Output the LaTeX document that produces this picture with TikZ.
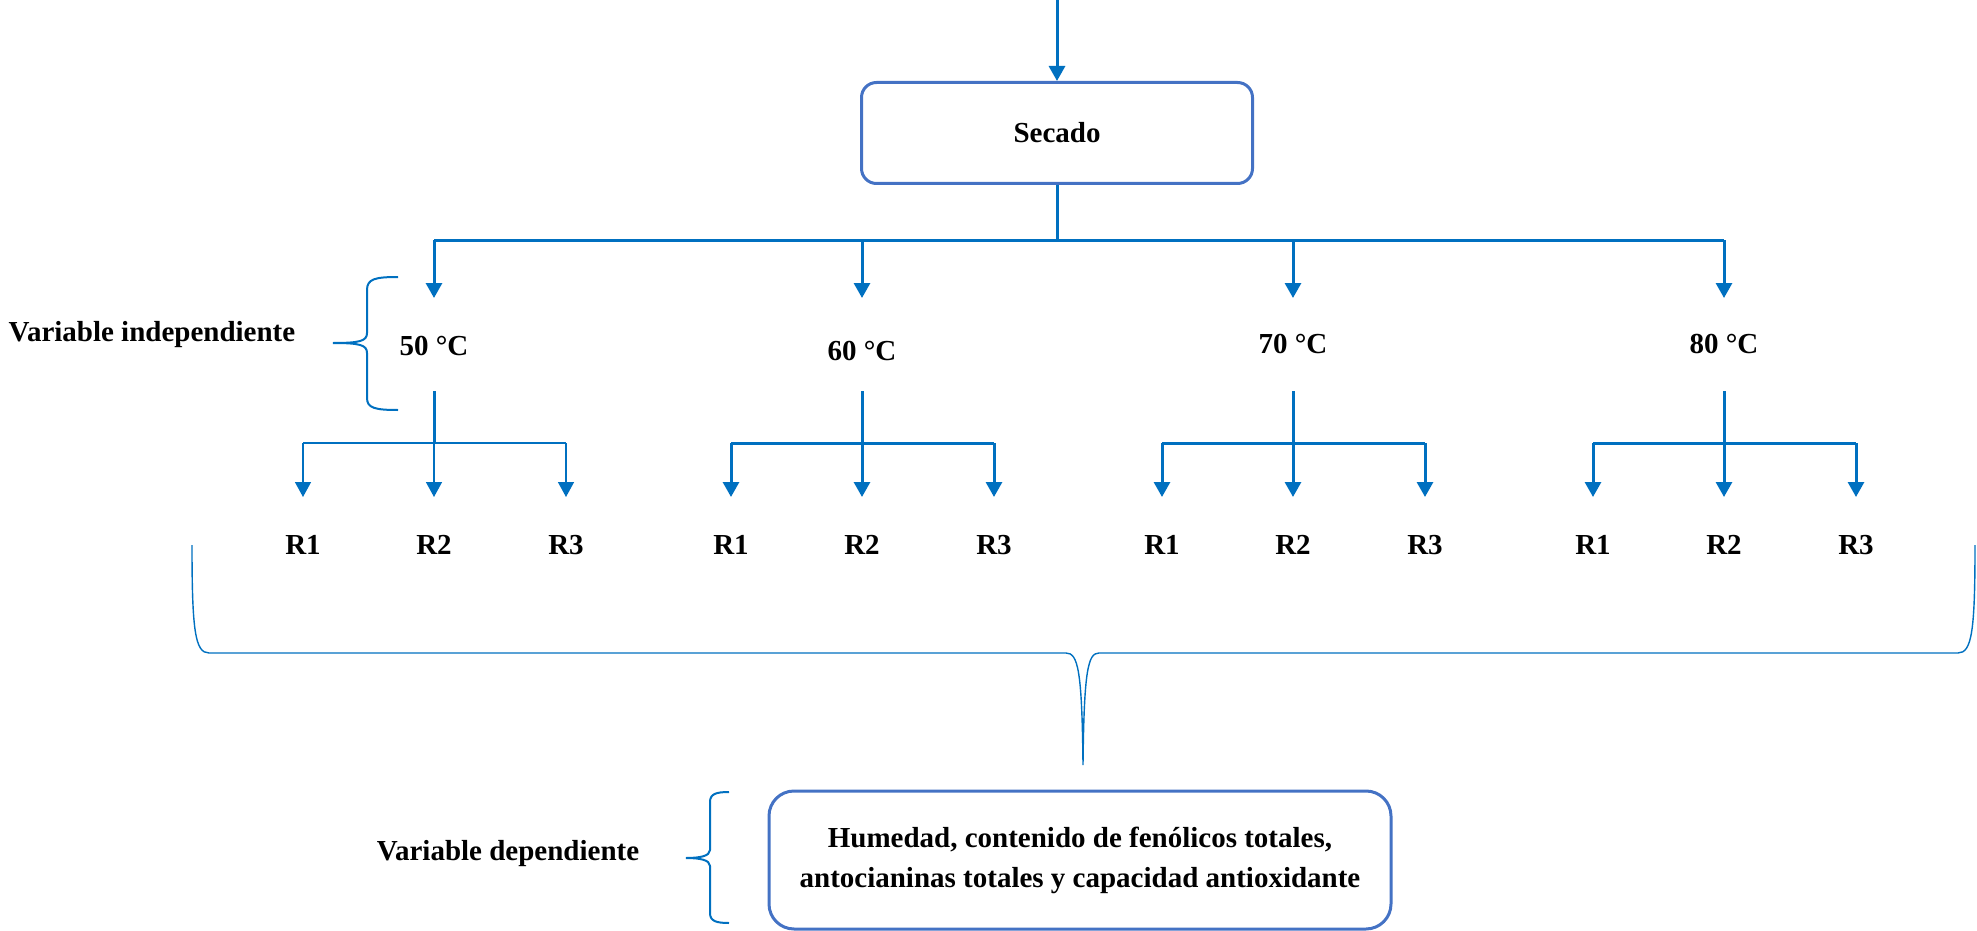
\documentclass[tikz,border=0pt]{standalone}
\usepackage{fontspec}
\setmainfont{Liberation Serif}
\usetikzlibrary{arrows.meta}

\definecolor{flujo}{HTML}{0070C0}
\definecolor{borde}{HTML}{4472C4}

\tikzset{
  caja/.style={draw=borde, line width=1.5pt, rounded corners=7.5pt, align=center},
  linea/.style={draw=flujo, line width=1.5pt},
  flecha/.style={linea, -{Triangle[width=8pt,length=7.5pt]}},
  llave/.style={draw=flujo, line width=1pt},
}

\begin{document}
\begin{tikzpicture}[x=0.5pt, y=-0.5pt, font=\fontsize{14.5}{20}\selectfont\bfseries]
\useasboundingbox (0,0) rectangle (1977,931);

% proceso
\coordinate (entrada) at (1057,0);
\node[caja, minimum width=195.5pt, minimum height=50.5pt] (secado) at (1057,133) {Secado};
\draw[flecha] (entrada) -- (secado.north);

% temperaturas y repeticiones
\foreach \t/\x/\y/\w in {50/434/346/0.75pt, 60/862/351/1.5pt, 70/1293/344/1.5pt, 80/1724/344/1.5pt}{
  \node (t\t) at (\x,\y) {\t~°C};
  \coordinate (b\t) at (\x,240);
  \coordinate (in\t) at (\x,298);
  \coordinate (out\t) at (\x,391);
  \coordinate (s\t) at (\x,443);
  \draw[flecha] (b\t) -- (in\t);
  \draw[linea] (out\t) -- (s\t);
  \foreach \r/\dx in {1/-131, 2/0, 3/132}{
    \node (r\t\r) at ({\x+\dx},545) {R\r};
    \coordinate (h\t\r) at ({\x+\dx},443);
    \coordinate (p\t\r) at ({\x+\dx},497);
    \draw[flecha, line width=\w] (h\t\r) -- (p\t\r);
  }
  \draw[linea, line width=\w] (h\t1) -- (h\t3);
}
\draw[linea] (secado.south) -- (secado.south |- b50);
\draw[linea] (b50) -- (b80);

% variables
\node (indep) at (152,335) {Variable independiente};
\node (dep) at (508,854) {Variable dependiente};
\node[caja, minimum width=311pt, minimum height=69pt, rounded corners=12.5pt] (medidas) at (1080,860)
  {Humedad, contenido de fenólicos totales,\\antocianinas totales y capacidad antioxidante};

% llaves
\draw[llave] (398,277) .. controls (375,277) and (367,279) .. (367,290) -- (367,333)
  .. controls (367,341) and (360,343) .. (333,343)
  .. controls (360,343) and (367,345) .. (367,353) -- (367,398)
  .. controls (367,408) and (375,410) .. (398,410);
\draw[llave] (729,792) .. controls (716,792) and (710,794) .. (710,802) -- (710,850)
  .. controls (710,856) and (700,858) .. (686,858)
  .. controls (700,858) and (710,860) .. (710,866) -- (710,913)
  .. controls (710,921) and (716,923) .. (729,923);
\draw[llave, line width=0.7pt] (192,545) .. controls (192,630) and (195,653) .. (209,653) -- (1066,653)
  .. controls (1078,653) and (1082,670) .. (1083,765)
  .. controls (1084,670) and (1088,653) .. (1099,653) -- (1958,653)
  .. controls (1972,653) and (1975,630) .. (1975,545);
\end{tikzpicture}
\end{document}
